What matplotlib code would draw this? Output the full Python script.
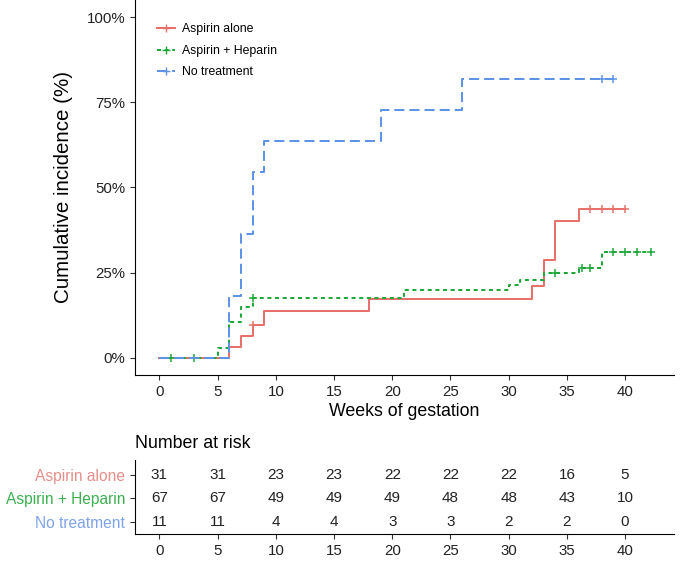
import numpy as np
import matplotlib
matplotlib.use("Agg")
import matplotlib.pyplot as plt
from matplotlib.lines import Line2D

plt.rcParams['font.family'] = ['Liberation Sans', 'DejaVu Sans']

# --- data ---
groups = ["Aspirin alone", "Aspirin + Heparin", "No treatment"]
colors = ["#E8716B", "#1FA83A", "#5F93E8"]
label_colors = ["#E58E8A", "#3DB050", "#7FA3E8"]
styles = ["-", (0, (2.0, 1.8)), (0, (5, 2.5))]

aspirin_t = [0, 6, 7, 8, 9, 18, 32, 33, 34, 36, 40]
aspirin_y = [0, 3.2, 6.5, 9.7, 13.7, 17.2, 21.0, 28.7, 40.1, 43.6, 43.6]
aspirin_cens_t = [8, 37, 38, 39, 40]
aspirin_cens_y = [9.7, 43.6, 43.6, 43.6, 43.6]

heparin_t = [0, 5, 6, 7, 8, 21, 30, 31, 33, 36, 38, 42.2]
heparin_y = [0, 3.0, 10.4, 14.9, 17.7, 19.8, 21.3, 23.0, 24.8, 26.4, 31.0, 31.0]
heparin_cens_t = [1, 3, 8, 34, 36.3, 37, 39, 40, 41, 42.2]
heparin_cens_y = [0, 0, 17.7, 24.8, 26.4, 26.4, 31.0, 31.0, 31.0, 31.0]

none_t = [0, 6, 7, 8, 9, 19, 26, 39]
none_y = [0, 18.2, 36.4, 54.5, 63.6, 72.7, 81.8, 81.8]
none_cens_t = [38, 39]
none_cens_y = [81.8, 81.8]

risk_weeks = [0, 5, 10, 15, 20, 25, 30, 35, 40]
risk_aspirin = [31, 31, 23, 23, 22, 22, 22, 16, 5]
risk_heparin = [67, 67, 49, 49, 49, 48, 48, 43, 10]
risk_none = [11, 11, 4, 4, 3, 3, 2, 2, 0]

y_ticks = [0, 25, 50, 75, 100]
y_tick_labels = ["0%", "25%", "50%", "75%", "100%"]

series = [
    (aspirin_t, aspirin_y, aspirin_cens_t, aspirin_cens_y),
    (heparin_t, heparin_y, heparin_cens_t, heparin_cens_y),
    (none_t, none_y, none_cens_t, none_cens_y),
]
risk_rows = [risk_aspirin, risk_heparin, risk_none]

XLIM = (-2.1, 44.2)

fig = plt.figure(figsize=(6.81, 5.66), dpi=100)

# --- main curve panel ---
ax = fig.add_axes([0.1982, 0.3375, 0.7915, 0.6625])
for (t, y, ct, cy), col, ls in zip(series, colors, styles):
    ax.step(t, y, where='post', color=col, linestyle=ls, linewidth=1.45)
    ax.plot(ct, cy, linestyle='none', marker='+', color=col, markersize=6, markeredgewidth=1.1)

ax.set_xlim(*XLIM)
ax.set_ylim(-5, 105)
ax.set_xticks(risk_weeks)
ax.set_yticks(y_ticks)
ax.set_yticklabels(y_tick_labels)
ax.tick_params(labelsize=10.8, length=3.5, color='#333333', labelcolor='#222222')
ax.spines['top'].set_visible(False)
ax.spines['right'].set_visible(False)
ax.set_xlabel("Weeks of gestation", fontsize=12.8, labelpad=3)
ax.set_ylabel("Cumulative incidence (%)", fontsize=14.8, labelpad=10)

handles = [Line2D([0], [0], color=c, linestyle=ls, linewidth=1.45, marker='+', markersize=6)
           for c, ls in zip(colors, styles)]
ax.legend(handles, groups, loc='upper left', bbox_to_anchor=(0.02, 0.967), frameon=False,
          fontsize=8.8, handlelength=1.5, handletextpad=0.6, labelspacing=0.78)

# --- number at risk table ---
fig.text(135 / 681, 1 - 443 / 566, "Number at risk", fontsize=12.8, va='center', ha='left')
tab = fig.add_axes([0.1982, 0.0565, 0.7915, 0.1307])
n = len(groups)
for i, row in enumerate(risk_rows):
    ypos = n - i
    for wk, val in zip(risk_weeks, row):
        tab.text(wk, ypos, str(val), ha='center', va='center', fontsize=11, color='#222222')
tab.set_xlim(*XLIM)
tab.set_ylim(0.47, 3.64)
tab.set_xticks(risk_weeks)
tab.set_yticks([n - i for i in range(n)])
tab.set_yticklabels(groups)
for lbl, c in zip(tab.get_yticklabels(), label_colors):
    lbl.set_color(c)
tab.tick_params(axis='y', labelsize=11.2, length=3.5, color='#333333')
tab.tick_params(axis='x', labelsize=10.8, length=3.5, color='#333333', labelcolor='#222222')
tab.spines['top'].set_visible(False)
tab.spines['right'].set_visible(False)

fig.savefig("out.png", dpi=100)
